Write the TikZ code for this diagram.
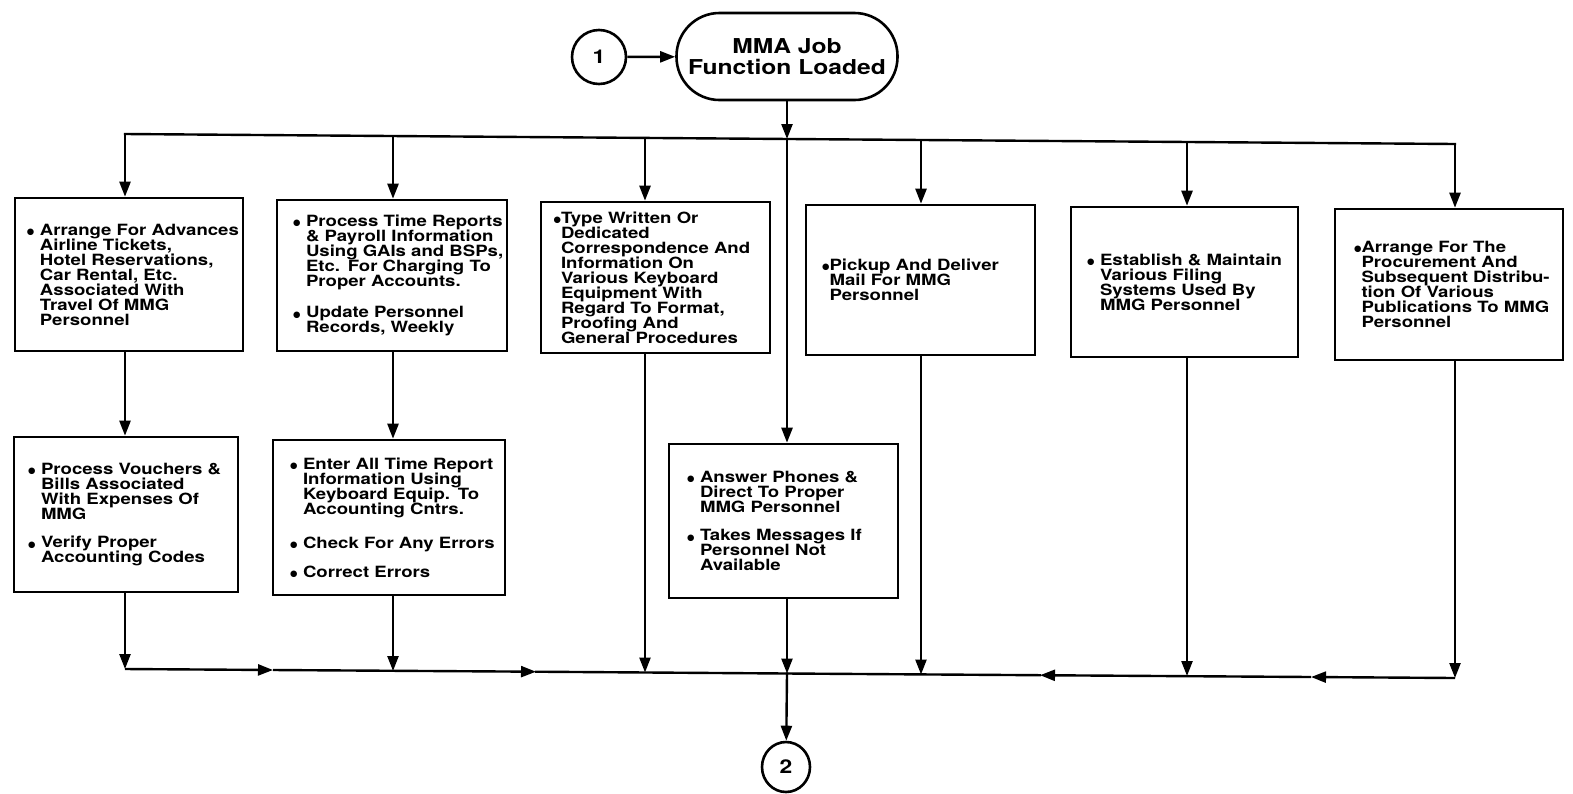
\documentclass[tikz,border=0pt]{standalone}
\usepackage{fontspec}
\setmainfont[FakeStretch=1.2]{TeX Gyre Heros}
\newfontfamily\symfont{DejaVu Sans}
\usetikzlibrary{arrows.meta,shapes.geometric}

% text styles for the boxes
\newcommand\boxfont{\bfseries\fontsize{15.5}{15}\selectfont}
\newcommand\termfont{\bfseries\fontsize{20.5}{21}\selectfont}
% a column of lines set on a fixed 15pt pitch
\newcommand\linecol[1]{\vtop{\let\\\cr\baselineskip=15pt\lineskiplimit=-20pt\lineskip=0pt\halign{##\hfil\cr#1\crcr}}}
% a large filled bullet
\newcommand\bul{\raisebox{0.8pt}{\symfont\fontsize{8.5}{8.5}\selectfont ●}}
% bullet item with a wide gap / a tight gap after the bullet
\newcommand\bi[1]{\makebox[13pt][l]{\bul}\linecol{#1}}
\newcommand\bt[1]{\makebox[7.5pt][l]{\bul}\linecol{#1}}

\tikzset{
  ln/.style={line width=2.4pt, line cap=rect},
  arr/.style={line width=2.4pt, -{Triangle[length=15pt,width=11pt]}},
  taskbox/.style={draw, line width=2.6pt, inner sep=0pt, align=left, font=\boxfont},
  term/.style={draw, line width=2.6pt, rounded corners=43pt, minimum width=221pt,
    minimum height=87pt, inner sep=0pt, align=center, font=\termfont},
  conn/.style={draw, ellipse, line width=2.6pt, inner sep=0pt, font=\bfseries\fontsize{19}{19}\selectfont},
}

\begin{document}
\begin{tikzpicture}[x=1pt,y=-1pt]
\fill[white] (0,0) rectangle (1573,793);
\useasboundingbox (0,0) rectangle (1573,793);

% start connector and terminal
\node[conn, minimum width=54pt, minimum height=54pt] (C1) at (599,57) {1};
\node[term] (T) at (787,56.5) {MMA Job\\Function Loaded};

% first row of tasks
\node[taskbox, minimum width=228pt, minimum height=153pt, text width=204pt] (A) at (129,274.5)
  {\bi{Arrange For Advances\\Airline Tickets,\\Hotel Reservations,\\Car Rental, Etc.\\Associated With\\Travel Of MMG\\Personnel}};
\node[taskbox, minimum width=230pt, minimum height=151pt, text width=198pt] (B) at (392,275.5)
  {\bi{Process Time Reports\\\& Payroll Information\\Using GAIs and BSPs,\\Etc. For Charging To\\Proper Accounts.}\\[16pt]\bi{Update Personnel\\Records, Weekly}};
\node[taskbox, minimum width=229pt, minimum height=151pt, text width=204pt] (C) at (655.5,277.5)
  {\bt{Type Written Or\\Dedicated\\Correspondence And\\Information On\\Various Keyboard\\Equipment With\\Regard To Format,\\Proofing And\\General Procedures}};
\node[taskbox, minimum width=229pt, minimum height=150pt, text width=197pt] (D) at (920.5,280)
  {\bt{Pickup And Deliver\\Mail For MMG\\Personnel}};
\node[taskbox, minimum width=227pt, minimum height=150pt, text width=195pt] (E) at (1184.5,282)
  {\bi{Establish \& Maintain\\Various Filing\\Systems Used By\\MMG Personnel}};
\node[taskbox, minimum width=228pt, minimum height=151pt, text width=190pt] (F) at (1449,284.5)
  {\bt{Arrange For The\\Procurement And\\Subsequent Distribu-\\tion Of Various\\Publications To MMG\\Personnel}};

% second row of tasks
\node[taskbox, minimum width=224pt, minimum height=155pt, text width=196pt] (G) at (126,514.5)
  {\bi{Process Vouchers \&\\Bills Associated\\With Expenses Of\\MMG}\\[16pt]\bi{Verify Proper\\Accounting Codes}};
\node[taskbox, minimum width=232pt, minimum height=155pt, text width=198pt] (H) at (389,517.5)
  {\bi{Enter All Time Report\\Information Using\\Keyboard Equip. To\\Accounting Cntrs.}\\[18pt]\bi{Check For Any Errors}\\[14pt]\bi{Correct Errors}};
\node[taskbox, minimum width=229pt, minimum height=154pt, text width=193pt] (I) at (783.5,521)
  {\bi{Answer Phones \&\\Direct To Proper\\MMG Personnel}\\[16pt]\bi{Takes Messages If\\Personnel Not\\Available}};

% end connector
\node[conn, minimum width=48pt, minimum height=50pt] (C2) at (786,767) {2};

% junctions on the distribution line
\coordinate (t1) at (125,134);
\coordinate (t2) at (393,136);
\coordinate (t3) at (645,138);
\coordinate (t4) at (787,139);
\coordinate (t5) at (921,140);
\coordinate (t6) at (1187,142);
\coordinate (t7) at (1455,144);

% junctions on the collecting line
\coordinate (b1) at (125,669);
\coordinate (b2) at (393,671);
\coordinate (b3) at (645,672.5);
\coordinate (b4) at (787,673.5);
\coordinate (b5) at (921,674.5);
\coordinate (b6) at (1187,676);
\coordinate (b7) at (1455,678);
\coordinate (m1) at (273,670);
\coordinate (m2) at (536,671.7);
\coordinate (m3) at (1040,675.2);
\coordinate (m4) at (1311,677);

% start of the flow
\draw[arr] (C1) -- (T);
\draw[arr] (T.south) -- (t4);
\draw[arr] (t4) -- (t4 |- I.north);

% distribution line and drops to the first row
\draw[ln] (t1) -- (t7);
\draw[arr] (t1) -- (t1 |- A.north);
\draw[arr] (t2) -- (t2 |- B.north);
\draw[arr] (t3) -- (t3 |- C.north);
\draw[arr] (t5) -- (t5 |- D.north);
\draw[arr] (t6) -- (t6 |- E.north);
\draw[arr] (t7) -- (t7 |- F.north);

% first row to second row
\draw[arr] (t1 |- A.south) -- (t1 |- G.north);
\draw[arr] (t2 |- B.south) -- (t2 |- H.north);

% drops to the collecting line
\draw[arr] (b1 |- G.south) -- (b1);
\draw[arr] (b2 |- H.south) -- (b2);
\draw[arr] (b3 |- C.south) -- (b3);
\draw[arr] (b4 |- I.south) -- (b4);
\draw[arr] (b5 |- D.south) -- (b5);
\draw[arr] (b6 |- E.south) -- (b6);
\draw[arr] (b7 |- F.south) -- (b7);

% collecting line, flowing in toward the centre
\draw[arr] (b1) -- (m1);
\draw[arr] (m1) -- (m2);
\draw[ln] (m2) -- (b4);
\draw[arr] (b7) -- (m4);
\draw[arr] (m4) -- (m3);
\draw[ln] (m3) -- (b4);

% on to the next page
\draw[arr] (b4) -- (C2);
\end{tikzpicture}
\end{document}
